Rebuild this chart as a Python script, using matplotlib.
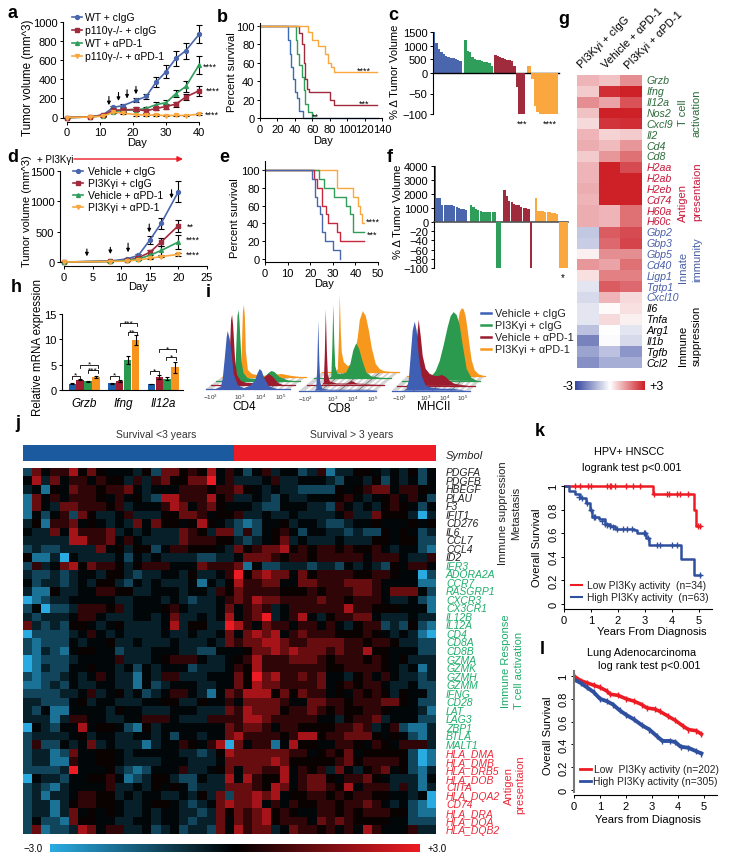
import matplotlib
matplotlib.use('Agg')
import matplotlib.pyplot as plt
import numpy as np
from matplotlib.colors import LinearSegmentedColormap
from matplotlib.patches import Polygon

plt.rcParams['font.family'] = ['Liberation Sans', 'DejaVu Sans']
plt.rcParams['mathtext.default'] = 'regular'
plt.rcParams['axes.linewidth'] = 0.8

W, H = 729, 862
BLUE, MAROON, GREEN, ORANGE = '#4a66ac', '#a02b3c', '#2f9e5b', '#f9a73e'

# panel a
a_days = [0, 7, 11, 14, 17, 21, 24, 27, 30, 33, 36, 40]
a_wt_igg = [0, 5, 30, 105, 125, 180, 220, 370, 480, 620, 700, 870]
a_wt_igg_err = [0, 3, 10, 15, 15, 20, 25, 55, 70, 80, 85, 95]
a_ko_igg = [0, 5, 25, 75, 80, 85, 70, 95, 115, 140, 215, 280]
a_ko_igg_err = [0, 3, 8, 20, 20, 20, 20, 20, 25, 25, 35, 50]
a_wt_pd1 = [0, 5, 20, 60, 75, 80, 95, 135, 155, 250, 325, 550]
a_wt_pd1_err = [0, 3, 5, 10, 10, 10, 10, 25, 25, 40, 60, 90]
a_ko_pd1 = [0, 5, 15, 55, 45, 30, 25, 25, 20, 22, 20, 35]
a_ko_pd1_err = [0, 2, 5, 10, 10, 10, 8, 8, 8, 8, 8, 10]
a_labels = ['WT + cIgG', 'p110γ-/- + cIgG', 'WT + αPD-1', 'p110γ-/- + αPD-1']
a_arrows = [(12.7, 220, 129), (15.6, 262, 174), (18.2, 290, 199), (20.9, 325, 244)]

# panel b
b_blue_x = [0, 30, 32, 34, 36, 38, 40, 42, 45, 49, 135]
b_blue_y = [100, 100, 85, 70, 55, 42, 28, 22, 8, 0, 0]
b_green_x = [0, 38, 41, 43, 45, 48, 50, 52, 55, 60]
b_green_y = [100, 100, 85, 70, 58, 45, 30, 15, 7, 0]
b_red_x = [0, 42, 45, 48, 50, 52, 54, 56, 80, 85, 134]
b_red_y = [100, 100, 92, 80, 60, 42, 32, 28, 20, 14, 14]
b_orange_x = [0, 52, 55, 60, 67, 75, 78, 82, 85, 134]
b_orange_y = [100, 100, 93, 85, 78, 70, 60, 55, 50, 50]

# panel c
c_blue = [1500, 1100, 880, 780, 700, 640, 590, 560, 540, 520, 490, 450]
c_green = [1220, 800, 780, 570, 530, 490, 460, 430, 420, 410, 380, 260]
c_red = [650, 640, 590, 550, 500, 480, 460, 430, 260, -35, -100, -100, -100]
c_orange = [250, 250, -15, -80, -95, -100, -100, -100, -100, -100, -100, -100, -100]

# panel d
d_days = [0, 8, 11, 13, 15, 17, 20]
d_veh_igg = [0, 15, 50, 110, 360, 640, 1160]
d_veh_igg_err = [0, 5, 10, 20, 70, 90, 170]
d_pi3k_igg = [0, 10, 25, 70, 160, 330, 600]
d_pi3k_igg_err = [0, 3, 8, 15, 40, 60, 100]
d_veh_pd1 = [0, 10, 25, 50, 110, 190, 330]
d_veh_pd1_err = [0, 3, 5, 10, 40, 70, 110]
d_pi3k_pd1 = [0, 8, 15, 35, 60, 90, 125]
d_pi3k_pd1_err = [0, 2, 3, 5, 10, 15, 30]
d_labels = ['Vehicle + cIgG', 'PI3Kγi + cIgG', 'Vehicle + αPD-1', 'PI3Kγi + αPD-1']
d_arrows = [(4, 214, 94), (8.1, 242, 132), (11.2, 310, 160), (14.9, 626, 489), (18.8, 1192, 1050)]

# panel e
e_blue_x = [0, 21, 22, 23, 24.5, 25, 26.5, 30, 33]
e_blue_y = [100, 90, 70, 60, 50, 30, 20, 10, 0]
e_red_x = [0, 21.5, 23, 25, 27, 28, 32, 33, 44]
e_red_y = [100, 90, 80, 60, 50, 40, 30, 20, 20]
e_green_x = [0, 24, 26, 30.5, 36, 37.5, 39, 44]
e_green_y = [100, 90, 80, 70, 60, 50, 30, 30]
e_orange_x = [0, 32, 39, 41, 42, 43, 44]
e_orange_y = [100, 80, 70, 60, 50, 40, 40]

# panel f
f_blue = [4100, 1750, 1750, 1250, 1220, 1200, 1200, 1180, 1150, 1050, 1000, 950, 900, 880]
f_green = [1250, 1050, 950, 850, 800, 750, 730, 720, 700, 700, 680, -100, -100]
f_red = [2300, 1850, 1500, 1400, 1300, 1250, 1200, 1050, 1030, 1000, 900, -100]
f_orange = [1750, 800, 780, 760, 740, 700, 680, 660, 640, 580, -100, -100, -100, -100]

# panel g
g_genes = ['Grzb', 'Ifng', 'Il12a', 'Nos2', 'Cxcl9', 'Il2', 'Cd4', 'Cd8', 'H2aa', 'H2ab', 'H2eb',
           'Cd74', 'H60a', 'H60c', 'Gbp2', 'Gbp3', 'Gbp5', 'Cd40', 'Ligp1', 'Tgtp1', 'Cxcl10',
           'Il6', 'Tnfa', 'Arg1', 'Il1b', 'Tgfb', 'Ccl2']
g_col1 = [1.0, 0.7, 1.5, 0.8, 0.5, 1.0, 1.1, 0.7, 1.0, 1.0, 1.1, 1.0, 1.1, 1.1, -0.9, -0.8, 0.2,
          1.4, 0.4, -0.4, -0.6, -0.4, -0.4, -1.0, -2.0, -1.5, -1.8]
g_col2 = [0.8, 2.8, 1.2, 3.0, 2.7, 0.6, 0.9, 1.4, 3.0, 3.0, 3.0, 3.0, 1.0, 1.0, 2.2, 2.0, 1.5,
          1.2, 1.7, 2.2, 1.0, 0.05, 0.5, 0.0, -0.05, -1.0, -1.3]
g_col3 = [1.5, 3.0, 2.3, 3.0, 2.8, 0.7, 1.4, 1.9, 2.4, 3.0, 3.0, 3.0, 1.9, 1.9, 2.4, 2.5, 1.5,
          1.9, 1.7, 2.0, 0.5, 0.4, 0.2, -0.4, -0.6, -1.7, -1.3]
g_columns = ['PI3Kγi + cIgG', 'Vehicle + αPD-1', 'PI3Kγi + αPD-1']

# panel h
h_genes = ['Grzb', 'Ifng', 'Il12a']
h_veh_igg = [1.2, 1.3, 1.2]
h_pi3k_igg = [2.0, 1.7, 2.6]
h_veh_pd1 = [1.7, 6.0, 2.2]
h_pi3k_pd1 = [2.5, 9.9, 4.5]
h_err = [[0.1, 0.1, 0.05], [0.1, 0.2, 0.4], [0.1, 0.8, 0.3], [0.2, 1.0, 1.1]]
h_brackets = [(208, 232, 305, '*'), (233, 285, 272, '*'), (255, 285, 288, '***'),
              (318, 345, 305, '*'), (348, 398, 147, '***'), (370, 398, 175, '**'),
              (436, 460, 292, '*'), (460, 510, 225, '*'), (482, 510, 250, '*')]

# panel i, position along the floor and height of each histogram
cd4_blue = ([10, 15, 17, 19, 21, 22, 24, 26, 28, 32, 38, 44, 49, 52, 54, 56, 59, 63, 68, 72],
            [0, 2, 10, 30, 52, 58, 50, 35, 15, 4, 1, 3, 8, 16, 20, 18, 10, 3, 1, 0])
cd4_red = ([12, 16, 18, 19, 20, 21, 22, 24, 26, 30, 36, 44, 50, 55, 58, 62, 67, 72],
           [0, 3, 15, 40, 65, 70, 60, 25, 10, 4, 2, 2, 5, 9, 11, 8, 2, 0])
cd4_green = ([14, 17, 19, 20, 21, 22, 23, 25, 27, 31, 38, 46, 52, 55, 58, 63, 70, 76],
             [0, 3, 12, 40, 65, 71, 60, 20, 8, 3, 2, 2, 8, 10, 9, 4, 1, 0])
cd4_orange = ([16, 19, 20, 21, 22, 23, 24, 26, 30, 40, 50, 60, 70, 78],
              [0, 5, 30, 65, 72, 60, 25, 7, 3, 1, 2, 3, 1, 0])
cd8_blue = ([15, 17, 18, 19, 20, 21, 23, 30, 50, 70, 80],
            [0, 2, 25, 70, 30, 8, 2, 1, 1, 1, 0])
cd8_red = ([15, 17, 18, 19, 20, 21, 23, 30, 40, 45, 50, 60, 75],
           [0, 2, 30, 75, 35, 10, 3, 1, 1, 3.5, 1, 0.5, 0])
cd8_green = ([15, 17, 18, 19, 20, 21, 23, 27, 32, 36, 39, 42, 45, 48, 52, 57, 63, 70],
             [0, 2, 30, 74, 35, 12, 5, 4, 6, 14, 28, 35, 29, 18, 6, 2, 1, 0])
cd8_orange = ([14, 16, 17, 18, 19, 20, 22, 26, 30, 33, 36, 38, 41, 44, 47, 50, 54, 58, 62, 70],
              [0, 3, 30, 78, 40, 20, 10, 6, 8, 16, 35, 52, 61, 56, 42, 24, 8, 3, 1, 0])
mhc_blue = ([12, 15, 17, 19, 21, 23, 25, 27, 30, 34, 40, 50, 60, 68, 75],
            [0, 2, 10, 35, 60, 69, 60, 35, 15, 5, 3, 2, 2, 1, 0])
mhc_red = ([10, 14, 17, 20, 22, 24, 26, 29, 33, 38, 42, 45, 49, 53, 58, 65, 72],
           [0, 3, 15, 45, 66, 50, 30, 17, 12, 10, 10, 11, 9, 5, 2, 1, 0])
mhc_green = ([20, 25, 30, 34, 38, 42, 46, 49, 52, 55, 58, 61, 65, 70, 76],
             [1, 3, 5, 10, 20, 36, 54, 65, 69, 66, 56, 36, 12, 3, 0])
mhc_orange = ([40, 44, 47, 50, 53, 55, 57, 59, 61, 63, 65, 68, 72, 78],
              [0, 6, 22, 45, 64, 68, 67, 60, 46, 30, 16, 6, 2, 0])

# panel j, one digit per cell, 0 is -3.0 and 9 is +3.0
j_levels = [-3, -2.0, -1.2, -0.55, -0.12, 0.12, 0.6, 1.3, 2.1, 3]
j_rows = [
    '274668575444352 775658464246344 236133554343524',
    '483746646553636 755779463334633 444324435243424',
    '341547665667434 446665667543433 222254567746654',
    '174646665464532 886668563343243 344456434564642',
    '174377666563444 687467544432244 433264343565424',
    '142462753346333 557764556334334 333346337555303',
    '351667454343747 554585432124453 443223445444545',
    '433748666734343 337653772624564 244332322545423',
    '333338866746433 337666553234573 433343335545522',
    '232233337453552 466555437567785 656656556434421',
    '511304333342434 333322334777656 656666646664336',
    '263478576653566 644476667142233 323324343254664',
    '322323443553233 443533469578774 756666556654402',
    '423323435532434 333414358667744 776667776444411',
    '311533446655334 443443657666655 565666776477742',
    '012334444433444 343233467687766 667665666433421',
    '240223666563444 564333474676346 666668665554441',
    '323334664333443 473343484679346 843566774333433',
    '732325543453333 483553398647664 664643566232521',
    '022223464343333 433433474787846 766655565434310',
    '212224344533433 343334376778876 677776656653322',
    '213214554423334 443322444577878 777676685544422',
    '012223444463334 566643345686667 776566656545333',
    '013224454434243 444233346586666 666556666543413',
    '212234346433143 663334447597866 767443564643323',
    '112324334433142 344433447587766 667456566433422',
    '222233463453423 466431476888575 766454656535442',
    '332224534433344 553354464777764 477665666775422',
    '324114444354433 344433376877756 676565566544431',
    '333136644334466 643336666887666 664435667344422',
    '043244845542153 444444476776466 555566763462113',
    '233334534433443 424434478666656 885667775454213',
    '262243473433313 446546807466148 554466546546663',
    '233127445543444 443323587777776 645657455555201',
    '233116445543333 444333477777875 555567566665201',
    '222239444532124 446334574776684 656374356745213',
    '043324455641235 532243384865584 677546675433314',
    '232134444633435 454233377765874 677658466636313',
    '231334665534344 334353727787845 566565665544340',
    '233135665543345 543234787784646 556656676434210',
    '233137454543343 443323757678565 446656566655211',
    '242217554433443 443233747678566 647676555544222',
    '271223874663342 342332748677347 665646486444633',
]
j_black = ['PDGFA', 'PDGFB', 'HBEGF', 'PLAU', 'F3', 'IFIT1', 'CD276', 'IL6', 'CCL7', 'CCL4', 'ID2']
j_green = ['IER3', 'ADORA2A', 'CCR7', 'RASGRP1', 'CXCR3', 'CX3CR1', 'IL12B', 'IL12A', 'CD4', 'CD8A',
           'CD8B', 'GZMA', 'GZMK', 'GZMH', 'GZMM', 'IFNG', 'CD28', 'LAT', 'LAG3', 'ZBP1', 'BTLA', 'MALT1']
j_red = ['HLA_DMA', 'HLA_DMB', 'HLA_DRB5', 'HLA_DOB', 'CIITA', 'HLA_DQA2', 'CD74', 'HLA_DRA',
         'HLA_DOA', 'HLA_DQB2']

# panel k
k_low_x = [0, 3.3, 4.8, 4.87, 5.05]
k_low_y = [1, 0.93, 0.8, 0.66, 0.66]
k_low_cens_x = [0.4, 0.6, 0.9, 1.0, 1.6, 1.7, 1.75, 1.9, 2.3, 2.55, 2.8, 3.35, 3.8, 3.9, 4.2, 4.3, 4.6, 4.95, 5.05]
k_low_cens_y = [1, 1, 1, 1, 1, 1, 1, 1, 1, 1, 1, 0.93, 0.93, 0.93, 0.93, 0.93, 0.93, 0.66, 0.66]
k_high_x = [0, 0.2, 0.4, 0.6, 0.8, 0.95, 1.05, 1.3, 1.5, 1.7, 1.9, 2.6, 2.7, 3.05, 3.15, 4.35, 4.8, 5.05]
k_high_y = [1, 0.96, 0.93, 0.9, 0.86, 0.8, 0.74, 0.72, 0.68, 0.66, 0.64, 0.63, 0.6, 0.56, 0.5, 0.38, 0.25, 0.25]
k_high_cens_x = [0.55, 0.65, 0.85, 1.0, 1.1, 1.15, 1.4, 1.5, 1.6, 1.7, 1.8, 1.95, 2.2, 2.35, 2.5, 2.95, 3.0, 3.1, 3.45, 3.55, 4.0, 4.2, 5.05]
k_high_cens_y = [0.91, 0.9, 0.86, 0.8, 0.74, 0.74, 0.7, 0.68, 0.67, 0.66, 0.65, 0.64, 0.64, 0.64, 0.64, 0.6, 0.6, 0.56, 0.5, 0.5, 0.5, 0.5, 0.25]

# panel l
l_low_x = [0, 0.25, 0.5, 0.75, 1, 1.25, 1.4, 1.7, 2, 2.3, 2.6, 2.8, 3.1, 3.3, 3.6, 3.9, 4.2, 4.4, 4.7, 4.9]
l_low_y = [1, 0.96, 0.94, 0.92, 0.9, 0.87, 0.84, 0.83, 0.8, 0.78, 0.75, 0.72, 0.71, 0.69, 0.65, 0.61, 0.56, 0.53, 0.52, 0.49]
l_high_x = [0, 0.25, 0.5, 0.75, 1, 1.25, 1.5, 1.75, 2, 2.3, 2.6, 2.9, 3.2, 3.4, 3.7, 3.9, 4.1, 4.4, 4.7, 4.9]
l_high_y = [0.97, 0.94, 0.9, 0.86, 0.8, 0.78, 0.75, 0.7, 0.66, 0.62, 0.57, 0.53, 0.47, 0.43, 0.43, 0.42, 0.38, 0.37, 0.34, 0.32]


fig = plt.figure(figsize=(W / 100, H / 100), dpi=100)


def px_axes(x0, y0, x1, y1):
    ax = fig.add_axes([x0 / W, 1 - y1 / H, (x1 - x0) / W, (y1 - y0) / H])
    ax.patch.set_alpha(0)
    ax.spines[['top', 'right']].set_visible(False)
    ax.tick_params(labelsize=8, length=2.5, width=0.7, pad=1.5)
    return ax


def group_plot(ax, x, y, err, color, marker):
    ax.errorbar(x, y, yerr=err, color=color, marker=marker, ms=2.8, lw=1.2, ecolor='k',
                elinewidth=0.8, capsize=2, capthick=0.8, clip_on=False)


# overlay in picture pixels for all loose text and the flow panels
ov = fig.add_axes([0, 0, 1, 1], zorder=5)
ov.set_xlim(0, W)
ov.set_ylim(H, 0)
ov.axis('off')


def txt(x, y, s, size=8, ha='center', va='center', **kw):
    ov.text(x, y, s, fontsize=size, ha=ha, va=va, **kw)


def vtxt(x, y, s, size=8, **kw):
    txt(x, y, s, size=size, rotation=90, **kw)


for s, x, y in [('a', 13, 14), ('b', 222, 17), ('c', 393, 15), ('d', 13, 157), ('e', 224, 157), ('f', 390, 157),
                ('g', 564, 20), ('h', 16, 288), ('i', 208, 293), ('j', 18, 424), ('k', 540, 432), ('l', 542, 650)]:
    txt(x, y, s, size=13, fontweight='bold')

# a
ax = px_axes(67, 23, 199, 118.5)
for y, e, c, m in [(a_wt_igg, a_wt_igg_err, BLUE, 'o'), (a_wt_pd1, a_wt_pd1_err, GREEN, '^'),
                   (a_ko_igg, a_ko_igg_err, MAROON, 's'), (a_ko_pd1, a_ko_pd1_err, ORANGE, 'v')]:
    group_plot(ax, a_days, y, e, c, m)
ax.set_xlim(0, 40)
ax.set_ylim(0, 1000)
ax.set_xticks(range(0, 41, 10))
ax.set_yticks(range(0, 1001, 200))
ax.spines[['left', 'bottom']].set_position(('outward', 3))
for x, y0, y1 in a_arrows:
    ax.annotate('', xy=(x, y1), xytext=(x, y0), arrowprops=dict(arrowstyle='-|>', lw=0.8, color='k', mutation_scale=5, shrinkA=0, shrinkB=0))
vtxt(28, 78, 'Tumor volume (mm^3)', size=8.4)
txt(137, 143, 'Day')
for i, (s, c, m) in enumerate(zip(a_labels, [BLUE, MAROON, GREEN, ORANGE], 'os^v')):
    y = 18 + i * 12.9
    ov.plot([72, 82], [y, y], color=c, lw=1.2)
    ov.plot([77], [y], color=c, marker=m, ms=2.8)
    txt(85, y, s, size=7.5, ha='left')
for x, y, s in [(210, 66, '****'), (213, 90, '****'), (212, 114, '****')]:
    txt(x, y + 1, s, size=6.5)

# b
ax = px_axes(260, 24, 382, 119)
for x, y, c in [(b_blue_x, b_blue_y, '#3a6cb0'), (b_green_x, b_green_y, GREEN),
                (b_red_x, b_red_y, MAROON), (b_orange_x, b_orange_y, ORANGE)]:
    ax.step(x, y, where='post', color=c, lw=1.0, clip_on=False)
ax.set_xlim(0, 140)
ax.set_ylim(0, 103.3)
ax.set_xticks(range(0, 141, 20))
ax.set_yticks(range(0, 101, 20))
vtxt(232, 72, 'Percent survival')
txt(323, 141, 'Day')
for x, y, s in [(315, 116, '**'), (364, 70, '****'), (364, 103, '***')]:
    txt(x, y + 1, s, size=6.5)

# c
slots = 52.5
c_starts = [0, 13, 25.5, 39]
c_colors = [BLUE, GREEN, MAROON, ORANGE]
top = px_axes(433, 33, 559, 74)
bot = px_axes(433, 74, 559, 115)
for vals, start, col in zip([c_blue, c_green, c_red, c_orange], c_starts, c_colors):
    xs = start + np.arange(len(vals)) + 0.5
    v = np.array(vals)
    top.bar(xs, np.where(v > 0, v, 0), width=0.93, color=col)
    bot.bar(xs, np.where(v < 0, v, 0), width=0.93, color=col)
for a_ in (top, bot):
    a_.set_xlim(0, slots)
    a_.set_xticks([])
top.set_ylim(0, 1500)
top.set_yticks([0, 500, 1000, 1500])
top.set_yticklabels(['0', '500', '1000', '1500'])
top.spines['bottom'].set_linewidth(1.0)
bot.set_ylim(-100, 0)
bot.set_yticks([-100, -50])
bot.spines['bottom'].set_visible(False)
vtxt(395, 72, '% Δ Tumor Volume')
txt(522, 124, '***', size=6.5)
txt(550, 124, '****', size=6.5)

# d
ax = px_axes(64, 172, 207, 263)
for y, e, c, m in [(d_veh_igg, d_veh_igg_err, BLUE, 'o'), (d_pi3k_igg, d_pi3k_igg_err, MAROON, 's'),
                   (d_veh_pd1, d_veh_pd1_err, GREEN, '^'), (d_pi3k_pd1, d_pi3k_pd1_err, ORANGE, 'v')]:
    group_plot(ax, d_days, y, e, c, m)
ax.set_xlim(0, 25)
ax.set_ylim(0, 1500)
ax.set_xticks(range(0, 26, 5))
ax.set_yticks([0, 500, 1000, 1500])
ax.spines[['left', 'bottom']].set_position(('outward', 3))
for x, y0, y1 in d_arrows:
    ax.annotate('', xy=(x, y1), xytext=(x, y0), arrowprops=dict(arrowstyle='-|>', lw=0.8, color='k', mutation_scale=5, shrinkA=0, shrinkB=0))
vtxt(27, 211, 'Tumor volume (mm^3)', size=8)
txt(138, 287, 'Day')
txt(37, 160, '+ PI3Kγi', size=7, ha='left')
ov.annotate('', xy=(183, 160), xytext=(74, 160), arrowprops=dict(arrowstyle='-|>', lw=1, color='#ed1c24', mutation_scale=8, shrinkA=0, shrinkB=0))
for i, (s, c, m) in enumerate(zip(d_labels, [BLUE, MAROON, GREEN, ORANGE], 'os^v')):
    y = 172 + i * 12
    ov.plot([73, 83], [y, y], color=c, lw=1.2)
    ov.plot([78], [y], color=c, marker=m, ms=2.8)
    txt(88, y, s, size=7.5, ha='left')
for x, y, s in [(190, 226, '**'), (193, 239, '****'), (193, 254, '****')]:
    txt(x, y + 1, s, size=6.5)

# e
ax = px_axes(265, 162, 378, 263)
for x, y, c in [(e_orange_x, e_orange_y, ORANGE), (e_green_x, e_green_y, GREEN),
                (e_red_x, e_red_y, '#c8283c'), (e_blue_x, e_blue_y, BLUE)]:
    ax.step(x, y, where='post', color=c, lw=1.0, clip_on=False)
ax.set_xlim(0, 50)
ax.set_ylim(-3.4, 110)
ax.set_xticks(range(0, 51, 10))
ax.set_yticks(range(0, 101, 20))
vtxt(235, 218, 'Percent survival')
txt(324, 284, 'Day')
txt(373, 222, '****', size=6.5)
txt(372, 235, '***', size=6.5)

# f
slots_f = 56
f_starts = [0, 15, 29, 42]
top = px_axes(434, 167, 568, 223)
bot = px_axes(434, 223, 568, 269)
for vals, start, col in zip([f_blue, f_green, f_red, f_orange], f_starts, c_colors):
    xs = start + np.arange(len(vals)) + 0.5
    v = np.array(vals)
    top.bar(xs, np.where(v > 0, v, 0), width=0.93, color=col)
    bot.bar(xs, np.where(v < 0, v, 0), width=0.93, color=col)
for a_ in (top, bot):
    a_.set_xlim(0, slots_f)
    a_.set_xticks([])
top.set_ylim(0, 4000)
top.set_yticks(range(0, 4001, 1000))
top.spines['bottom'].set_linewidth(1.2)
top.spines['bottom'].set_color('#555555')
bot.set_ylim(-100, 0)
bot.set_yticks(range(-100, 0, 20))
bot.spines['bottom'].set_visible(False)
vtxt(398, 212, '% Δ Tumor Volume')
txt(563, 278, '*', size=7)

# g
g_cmap = LinearSegmentedColormap.from_list('g', ['#37479f', '#ffffff', '#cd2027'])
ax = px_axes(577, 76, 642, 369)
g_data = np.column_stack([g_col1, g_col2, g_col3])
ax.imshow(g_data, cmap=g_cmap, vmin=-3, vmax=3, aspect='auto', interpolation='nearest')
ax.axis('off')
row_h = 293 / len(g_genes)
for i, s in enumerate(g_genes):
    c = '#2e6b3c' if i < 8 else '#c8193c' if i < 14 else '#4a5fa8' if i < 21 else 'k'
    txt(646.5, 76 + (i + 0.5) * row_h, s, size=7.7, ha='left', style='italic', color=c)
for x, y, s in zip([583, 607, 630], [70, 70, 71], g_columns):
    ov.text(x, y, s, fontsize=8, rotation=45, ha='left', va='bottom', rotation_mode='anchor')
for x, y, s, c in [(683, 113, 'T cell', '#2e6b3c'), (697, 113, 'activation', '#2e6b3c'),
                   (683, 203, 'Antigen', '#c8193c'), (697, 192, 'presentaion', '#c8193c'),
                   (683, 267, 'Innate', '#4a5fa8'), (697, 260, 'immunity', '#4a5fa8'),
                   (683, 346, 'Immune', 'k'), (697, 336, 'suppression', 'k')]:
    vtxt(x, y, s, size=8, color=c)
cb = px_axes(575, 382, 645, 391)
cb.imshow(np.linspace(-3, 3, 100)[None, :], cmap=g_cmap, vmin=-3, vmax=3, aspect='auto')
cb.axis('off')
txt(568, 387, '-3', size=9)
txt(656, 387, '+3', size=9)

# h
ax = px_axes(62, 315, 183, 391)
h_colors = ['#1c5fa8', '#a01c30', '#2a9a50', '#f7941e']
group_start = np.array([0.8, 5.8, 10.8])
for i, (vals, c) in enumerate(zip([h_veh_igg, h_pi3k_igg, h_veh_pd1, h_pi3k_pd1], h_colors)):
    ax.bar(group_start + i + 0.5, vals, width=0.95, color=c, yerr=h_err[i], ecolor='k',
           error_kw=dict(lw=0.8, capsize=1.5, capthick=0.8))
ax.set_xlim(0, 15.3)
ax.set_ylim(0, 15)
ax.set_yticks([0, 5, 10, 15])
ax.set_xticks(group_start + 2)
ax.set_xticklabels(h_genes, style='italic', fontsize=8.5)
ax.tick_params(axis='x', length=0, pad=5)
vtxt(38, 348, 'Relative mRNA expression', size=8.3)
for x0, x1, y, s in h_brackets:
    xa, xb, yp = x0 / 2.9, x1 / 2.9, 275 + y / 3
    ov.plot([xa, xa, xb, xb], [yp + 3, yp, yp, yp + 3], color='k', lw=0.6)
    txt((xa + xb) / 2, yp - 0.5, s, size=6)

# i
flow_colors = ['#3f5fb5', '#9b1c2e', '#2c9a4e', '#f7981d']
flow_panels = [
    (205.7, 390, 84, 5.4, -4, [cd4_blue, cd4_red, cd4_green, cd4_orange]),
    (299.3, 391.7, 77, 7.5, -6.2, [cd8_blue, cd8_red, cd8_green, cd8_orange]),
    (391.7, 391.7, 78, 5, -4.8, [mhc_blue, mhc_red, mhc_green, mhc_orange]),
]
for x0, y0, w, dx, dy, curves in flow_panels:
    ov.add_patch(Polygon([(x0, y0), (x0 + w, y0), (x0 + w + 3 * dx, y0 + 3 * dy), (x0 + 3 * dx, y0 + 3 * dy)],
                         closed=True, fc='#d4d4d4', ec='none', zorder=1))
    for frac in [0.1, 0.2, 0.36, 0.44, 0.6, 0.68, 0.84, 0.92]:
        xa = x0 + frac * w
        ov.plot([xa, xa + 3 * dx], [y0, y0 + 3 * dy], color='white', lw=1.5, zorder=1.1)
    for frac in [0.28, 0.52, 0.76]:
        xa = x0 + frac * w
        ov.plot([xa, xa + 3 * dx], [y0, y0 + 3 * dy], color='#666666', lw=0.5, zorder=1.2)
    for layer in [3, 2, 1, 0]:
        u, h = curves[layer]
        ox, oy = x0 + layer * dx, y0 + layer * dy
        ov.fill(ox + np.array(u), oy - np.array(h), color=flow_colors[layer], lw=0, zorder=2 + (3 - layer))
        ov.plot([ox, ox + w], [oy, oy], color=flow_colors[layer], lw=0.9, zorder=2 + (3 - layer))
tick_txt = ['$-10^{3}$', '$10^{3}$', '$10^{4}$', '$10^{5}$']
for xs, y in [([210, 240, 261, 281], 397), ([305, 333, 353, 373], 399), ([399, 426, 445, 463], 398)]:
    for x, s in zip(xs, tick_txt):
        txt(x, y, s, size=4.5, color='#333333')
txt(244, 407, 'CD4', size=8.5)
txt(339, 409, 'CD8', size=8.5)
txt(434, 407, 'MHCII', size=8.5)
for y, c, s in zip([314, 326, 338, 350], [flow_colors[0], flow_colors[2], flow_colors[1], flow_colors[3]],
                   ['Vehicle + cIgG', 'PI3Kγi + cIgG', 'Vehicle + αPD-1', 'PI3Kγi + αPD-1']):
    ov.plot([481, 491], [y, y], color=c, lw=1.8)
    txt(495.5, y, s, size=7.8, ha='left', color='#222222')

# j
j_cmap = LinearSegmentedColormap.from_list('j', ['#29abe2', '#000000', '#ed1c24'])
j_data = np.array([[j_levels[int(ch)] for ch in row.replace(' ', '')] for row in j_rows])
ax = px_axes(23, 469, 436, 835)
ax.imshow(j_data, cmap=j_cmap, vmin=-3, vmax=3, aspect='auto', interpolation='nearest')
ax.axis('off')
ov.fill([23, 234, 234, 23], [446, 446, 462, 462], color='#1c5aa0', lw=0)
ov.fill([234, 436, 436, 234], [446, 446, 462, 462], color='#ed1c24', lw=0)
txt(156, 435, 'Survival <3 years', size=7.5, color='#333333')
txt(352, 435, 'Survival > 3 years', size=7.5, color='#333333')
txt(446, 456, 'Symbol', size=8, ha='left', style='italic', color='#222222')
row_j = 366 / len(j_rows)
for i, s in enumerate(j_black + j_green + j_red):
    c = '#222222' if i < 11 else '#1fae6b' if i < 33 else '#ed2939'
    txt(446, 469 + (i + 0.5) * row_j, s, size=7.5, ha='left', style='italic', color=c)
vtxt(503, 513, 'Immune suppression', size=8, color='#222222')
vtxt(516, 513, 'Metastasis', size=8, color='#222222')
vtxt(506, 661, 'Immune Response', size=8, color='#1fae6b')
vtxt(519, 670, 'T cell activation', size=8, color='#1fae6b')
vtxt(508.6, 786, 'Antigen', size=8, color='#ed2939')
vtxt(520, 785, 'presentaion', size=8, color='#ed2939')
cb = px_axes(49.5, 845, 419, 853)
cb.imshow(np.linspace(-3, 3, 200)[None, :], cmap=j_cmap, vmin=-3, vmax=3, aspect='auto')
cb.axis('off')
txt(33, 849, '−3.0', size=7)
txt(437, 849, '+3.0', size=7)

# k
K_RED, K_BLUE = '#ed1c24', '#2f4f9f'
ax = px_axes(564, 480, 712, 610)
ax.step(k_low_x, k_low_y, where='post', color=K_RED, lw=1.8)
ax.step(k_high_x, k_high_y, where='post', color=K_BLUE, lw=1.8)
ax.plot(k_low_cens_x, k_low_cens_y, ls='', marker='+', color=K_RED, ms=4, mew=1)
ax.plot(k_high_cens_x, k_high_cens_y, ls='', marker='+', color=K_BLUE, ms=4, mew=1)
ax.set_xlim(0, 5.48)
ax.set_ylim(-0.042, 1.06)
ax.spines['left'].set_bounds(-0.042, 1.0)
ax.set_xticks(range(6))
ax.set_yticks([0, 0.2, 0.4, 0.6, 0.8, 1])
ax.set_yticklabels(['0', '0.2', '0.4', '0.6', '0.8', '1'], rotation=90, va='center')
txt(629, 452, 'HPV+ HNSCC', size=7.8)
txt(632, 468, 'logrank test p<0.001', size=7.8)
vtxt(537, 548, 'Overall Survival')
txt(652, 632, 'Years From Diagnosis')
for y, c, s in [(586, K_RED, 'Low PI3Kγ activity  (n=34)'), (598, K_BLUE, 'High PI3Kγ activity  (n=63)')]:
    ov.plot([571, 582], [y, y], color=c, lw=1.5)
    txt(587, y, s, size=7.4, ha='left', color='#222222')

# l
ax = px_axes(574, 672, 717, 796)
ax.plot(l_low_x, l_low_y, color=K_RED, lw=2.6, marker='|', ms=4)
ax.plot(l_high_x, l_high_y, color=K_BLUE, lw=2.8, marker='|', ms=4)
ax.set_xlim(0, 5.5)
ax.set_ylim(-0.044, 1.044)
ax.spines['left'].set_color('#777777')
ax.spines['left'].set_linewidth(1.5)
ax.spines['left'].set_bounds(-0.02, 1.044)
ax.set_xticks(range(6))
ax.set_yticks([0, 0.2, 0.4, 0.6, 0.8, 1])
ax.set_yticklabels(['0', '0.2', '0.4', '0.6', '0.8', '1'], rotation=90, va='center')
txt(642, 653, 'Lung Adenocarcinoma', size=7.8)
txt(649, 666, 'log rank test p<0.001', size=7.8)
vtxt(548, 736, 'Overall Survival')
txt(648, 820, 'Years from Diagnosis')
for y, c, s, tx in [(770, K_RED, 'Low  PI3Kγ activity (n=202)', 594), (782, K_BLUE, 'High PI3Kγ activity (n=305)', 593)]:
    ov.plot([580, 591], [y, y], color=c, lw=2)
    txt(tx, y, s, size=7.4, ha='left', color='#222222')

fig.savefig('out.png', dpi=100)
